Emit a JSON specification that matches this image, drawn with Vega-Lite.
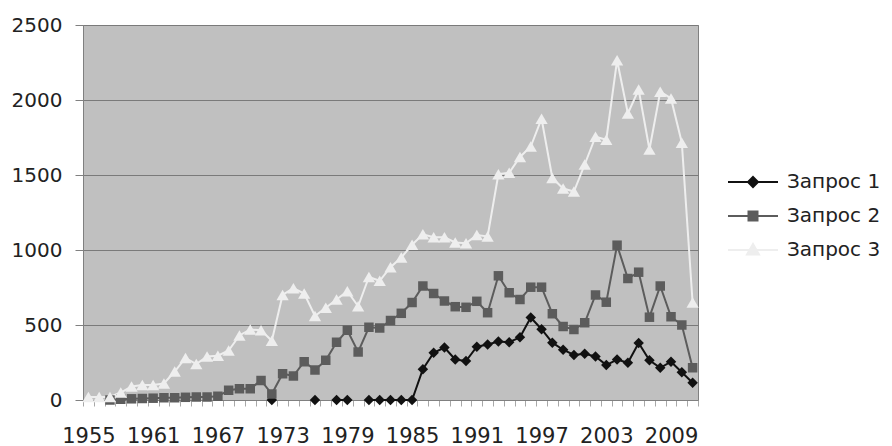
{
  "$schema": "https://vega.github.io/schema/vega-lite/v6.json",
  "width": 615,
  "height": 375,
  "autosize": {"type": "none"},
  "padding": {"left": 83, "top": 25, "right": 194, "bottom": 46},
  "background": "white",
  "config": {
    "view": {"fill": "#c0c0c0", "stroke": "#808080", "strokeWidth": 1},
    "font": "DejaVu Sans",
    "axis": {"labelFont": "DejaVu Sans", "labelFontSize": 20, "labelColor": "#222222", "title": null}
  },
  "data": {"values": [
    {"year": 1972, "series": "Запрос 1", "value": 0},
    {"year": 1973, "series": "Запрос 1", "value": null},
    {"year": 1974, "series": "Запрос 1", "value": null},
    {"year": 1975, "series": "Запрос 1", "value": null},
    {"year": 1976, "series": "Запрос 1", "value": 0},
    {"year": 1977, "series": "Запрос 1", "value": null},
    {"year": 1978, "series": "Запрос 1", "value": 0},
    {"year": 1979, "series": "Запрос 1", "value": 0},
    {"year": 1980, "series": "Запрос 1", "value": null},
    {"year": 1981, "series": "Запрос 1", "value": 0},
    {"year": 1982, "series": "Запрос 1", "value": 0},
    {"year": 1983, "series": "Запрос 1", "value": 0},
    {"year": 1984, "series": "Запрос 1", "value": 0},
    {"year": 1985, "series": "Запрос 1", "value": 0},
    {"year": 1986, "series": "Запрос 1", "value": 205},
    {"year": 1987, "series": "Запрос 1", "value": 315},
    {"year": 1988, "series": "Запрос 1", "value": 350},
    {"year": 1989, "series": "Запрос 1", "value": 270},
    {"year": 1990, "series": "Запрос 1", "value": 260},
    {"year": 1991, "series": "Запрос 1", "value": 355},
    {"year": 1992, "series": "Запрос 1", "value": 370},
    {"year": 1993, "series": "Запрос 1", "value": 390},
    {"year": 1994, "series": "Запрос 1", "value": 385},
    {"year": 1995, "series": "Запрос 1", "value": 418},
    {"year": 1996, "series": "Запрос 1", "value": 550},
    {"year": 1997, "series": "Запрос 1", "value": 472},
    {"year": 1998, "series": "Запрос 1", "value": 382},
    {"year": 1999, "series": "Запрос 1", "value": 335},
    {"year": 2000, "series": "Запрос 1", "value": 300},
    {"year": 2001, "series": "Запрос 1", "value": 308},
    {"year": 2002, "series": "Запрос 1", "value": 290},
    {"year": 2003, "series": "Запрос 1", "value": 233},
    {"year": 2004, "series": "Запрос 1", "value": 270},
    {"year": 2005, "series": "Запрос 1", "value": 248},
    {"year": 2006, "series": "Запрос 1", "value": 380},
    {"year": 2007, "series": "Запрос 1", "value": 265},
    {"year": 2008, "series": "Запрос 1", "value": 215},
    {"year": 2009, "series": "Запрос 1", "value": 255},
    {"year": 2010, "series": "Запрос 1", "value": 185},
    {"year": 2011, "series": "Запрос 1", "value": 115},

    {"year": 1957, "series": "Запрос 2", "value": 0},
    {"year": 1958, "series": "Запрос 2", "value": 5},
    {"year": 1959, "series": "Запрос 2", "value": 8},
    {"year": 1960, "series": "Запрос 2", "value": 10},
    {"year": 1961, "series": "Запрос 2", "value": 12},
    {"year": 1962, "series": "Запрос 2", "value": 15},
    {"year": 1963, "series": "Запрос 2", "value": 15},
    {"year": 1964, "series": "Запрос 2", "value": 18},
    {"year": 1965, "series": "Запрос 2", "value": 20},
    {"year": 1966, "series": "Запрос 2", "value": 20},
    {"year": 1967, "series": "Запрос 2", "value": 25},
    {"year": 1968, "series": "Запрос 2", "value": 65},
    {"year": 1969, "series": "Запрос 2", "value": 75},
    {"year": 1970, "series": "Запрос 2", "value": 75},
    {"year": 1971, "series": "Запрос 2", "value": 130},
    {"year": 1972, "series": "Запрос 2", "value": 40},
    {"year": 1973, "series": "Запрос 2", "value": 175},
    {"year": 1974, "series": "Запрос 2", "value": 160},
    {"year": 1975, "series": "Запрос 2", "value": 255},
    {"year": 1976, "series": "Запрос 2", "value": 200},
    {"year": 1977, "series": "Запрос 2", "value": 265},
    {"year": 1978, "series": "Запрос 2", "value": 385},
    {"year": 1979, "series": "Запрос 2", "value": 465},
    {"year": 1980, "series": "Запрос 2", "value": 320},
    {"year": 1981, "series": "Запрос 2", "value": 485},
    {"year": 1982, "series": "Запрос 2", "value": 480},
    {"year": 1983, "series": "Запрос 2", "value": 530},
    {"year": 1984, "series": "Запрос 2", "value": 578},
    {"year": 1985, "series": "Запрос 2", "value": 650},
    {"year": 1986, "series": "Запрос 2", "value": 760},
    {"year": 1987, "series": "Запрос 2", "value": 710},
    {"year": 1988, "series": "Запрос 2", "value": 660},
    {"year": 1989, "series": "Запрос 2", "value": 622},
    {"year": 1990, "series": "Запрос 2", "value": 618},
    {"year": 1991, "series": "Запрос 2", "value": 658},
    {"year": 1992, "series": "Запрос 2", "value": 582},
    {"year": 1993, "series": "Запрос 2", "value": 828},
    {"year": 1994, "series": "Запрос 2", "value": 715},
    {"year": 1995, "series": "Запрос 2", "value": 670},
    {"year": 1996, "series": "Запрос 2", "value": 752},
    {"year": 1997, "series": "Запрос 2", "value": 752},
    {"year": 1998, "series": "Запрос 2", "value": 575},
    {"year": 1999, "series": "Запрос 2", "value": 490},
    {"year": 2000, "series": "Запрос 2", "value": 470},
    {"year": 2001, "series": "Запрос 2", "value": 515},
    {"year": 2002, "series": "Запрос 2", "value": 700},
    {"year": 2003, "series": "Запрос 2", "value": 652},
    {"year": 2004, "series": "Запрос 2", "value": 1032},
    {"year": 2005, "series": "Запрос 2", "value": 810},
    {"year": 2006, "series": "Запрос 2", "value": 852},
    {"year": 2007, "series": "Запрос 2", "value": 552},
    {"year": 2008, "series": "Запрос 2", "value": 760},
    {"year": 2009, "series": "Запрос 2", "value": 555},
    {"year": 2010, "series": "Запрос 2", "value": 500},
    {"year": 2011, "series": "Запрос 2", "value": 215},

    {"year": 1955, "series": "Запрос 3", "value": 20},
    {"year": 1956, "series": "Запрос 3", "value": 20},
    {"year": 1957, "series": "Запрос 3", "value": 20},
    {"year": 1958, "series": "Запрос 3", "value": 50},
    {"year": 1959, "series": "Запрос 3", "value": 90},
    {"year": 1960, "series": "Запрос 3", "value": 100},
    {"year": 1961, "series": "Запрос 3", "value": 100},
    {"year": 1962, "series": "Запрос 3", "value": 110},
    {"year": 1963, "series": "Запрос 3", "value": 190},
    {"year": 1964, "series": "Запрос 3", "value": 280},
    {"year": 1965, "series": "Запрос 3", "value": 240},
    {"year": 1966, "series": "Запрос 3", "value": 290},
    {"year": 1967, "series": "Запрос 3", "value": 295},
    {"year": 1968, "series": "Запрос 3", "value": 330},
    {"year": 1969, "series": "Запрос 3", "value": 430},
    {"year": 1970, "series": "Запрос 3", "value": 470},
    {"year": 1971, "series": "Запрос 3", "value": 465},
    {"year": 1972, "series": "Запрос 3", "value": 395},
    {"year": 1973, "series": "Запрос 3", "value": 700},
    {"year": 1974, "series": "Запрос 3", "value": 745},
    {"year": 1975, "series": "Запрос 3", "value": 710},
    {"year": 1976, "series": "Запрос 3", "value": 560},
    {"year": 1977, "series": "Запрос 3", "value": 615},
    {"year": 1978, "series": "Запрос 3", "value": 670},
    {"year": 1979, "series": "Запрос 3", "value": 725},
    {"year": 1980, "series": "Запрос 3", "value": 625},
    {"year": 1981, "series": "Запрос 3", "value": 820},
    {"year": 1982, "series": "Запрос 3", "value": 795},
    {"year": 1983, "series": "Запрос 3", "value": 885},
    {"year": 1984, "series": "Запрос 3", "value": 950},
    {"year": 1985, "series": "Запрос 3", "value": 1035},
    {"year": 1986, "series": "Запрос 3", "value": 1105},
    {"year": 1987, "series": "Запрос 3", "value": 1085},
    {"year": 1988, "series": "Запрос 3", "value": 1085},
    {"year": 1989, "series": "Запрос 3", "value": 1050},
    {"year": 1990, "series": "Запрос 3", "value": 1045},
    {"year": 1991, "series": "Запрос 3", "value": 1100},
    {"year": 1992, "series": "Запрос 3", "value": 1090},
    {"year": 1993, "series": "Запрос 3", "value": 1505},
    {"year": 1994, "series": "Запрос 3", "value": 1515},
    {"year": 1995, "series": "Запрос 3", "value": 1620},
    {"year": 1996, "series": "Запрос 3", "value": 1690},
    {"year": 1997, "series": "Запрос 3", "value": 1875},
    {"year": 1998, "series": "Запрос 3", "value": 1480},
    {"year": 1999, "series": "Запрос 3", "value": 1410},
    {"year": 2000, "series": "Запрос 3", "value": 1390},
    {"year": 2001, "series": "Запрос 3", "value": 1570},
    {"year": 2002, "series": "Запрос 3", "value": 1755},
    {"year": 2003, "series": "Запрос 3", "value": 1735},
    {"year": 2004, "series": "Запрос 3", "value": 2265},
    {"year": 2005, "series": "Запрос 3", "value": 1910},
    {"year": 2006, "series": "Запрос 3", "value": 2070},
    {"year": 2007, "series": "Запрос 3", "value": 1670},
    {"year": 2008, "series": "Запрос 3", "value": 2055},
    {"year": 2009, "series": "Запрос 3", "value": 2010},
    {"year": 2010, "series": "Запрос 3", "value": 1715},
    {"year": 2011, "series": "Запрос 3", "value": 650}
  ]},
  "encoding": {
    "x": {
      "field": "year", "type": "quantitative",
      "scale": {"domain": [1954.5, 2011.5], "nice": false, "zero": false},
      "axis": {
        "values": [1954.5, 1955.5, 1956.5, 1957.5, 1958.5, 1959.5, 1960.5, 1961.5, 1962.5, 1963.5, 1964.5, 1965.5, 1966.5, 1967.5, 1968.5, 1969.5, 1970.5, 1971.5, 1972.5, 1973.5, 1974.5, 1975.5, 1976.5, 1977.5, 1978.5, 1979.5, 1980.5, 1981.5, 1982.5, 1983.5, 1984.5, 1985.5, 1986.5, 1987.5, 1988.5, 1989.5, 1990.5, 1991.5, 1992.5, 1993.5, 1994.5, 1995.5, 1996.5, 1997.5, 1998.5, 1999.5, 2000.5, 2001.5, 2002.5, 2003.5, 2004.5, 2005.5, 2006.5, 2007.5, 2008.5, 2009.5, 2010.5, 2011.5],
        "labelExpr": "((datum.value + 0.5 - 1955) % 6 === 0) ? format(datum.value + 0.5, 'd') : ''",
        "labelOffset": 5.4,
        "labelOverlap": false,
        "labelFlush": false,
        "labelFontSize": 21,
        "labelPadding": 19,
        "grid": false,
        "tickSize": 6,
        "tickColor": "#a8a8a8",
        "domainColor": "#808080"
      }
    },
    "y": {
      "field": "value", "type": "quantitative",
      "scale": {"domain": [0, 2500], "nice": false},
      "axis": {
        "values": [0, 500, 1000, 1500, 2000, 2500],
        "format": "d",
        "grid": true,
        "gridColor": "#7a7a7a",
        "gridWidth": 1,
        "domainColor": "#808080",
        "tickColor": "#808080",
        "tickSize": 8,
        "labelPadding": 13
      }
    },
    "color": {
      "field": "series", "type": "nominal",
      "scale": {"domain": ["Запрос 1", "Запрос 2", "Запрос 3"], "range": ["#111111", "#5c5c5c", "#eeeeee"]},
      "legend": {
        "orient": "none",
        "legendX": 660,
        "legendY": 147,
        "title": null,
        "symbolSize": 100,
        "symbolStrokeWidth": 2,
        "labelFont": "DejaVu Sans",
        "labelFontSize": 20,
        "labelColor": "#222222",
        "labelOffset": 24,
        "labelLimit": 300,
        "rowPadding": 14,
        "padding": 0,
        "encode": {
          "symbols": {
            "update": {
              "shape": {"signal": "datum.value === 'Запрос 1' ? 'M-5,0H5M0,-1L1,0L0,1L-1,0Z' : datum.value === 'Запрос 2' ? 'M-5,0H5M-0.9,-0.9H0.9V0.9H-0.9Z' : 'M-5,0H5M0,-1.2L1.2,0.9L-1.2,0.9Z'"},
              "fill": {"signal": "scale('color', datum.value)"},
              "stroke": {"signal": "scale('color', datum.value)"},
              "strokeWidth": {"value": 2},
              "opacity": {"value": 1}
            }
          }
        }
      }
    }
  },
  "layer": [
    {
      "mark": {"type": "line", "strokeWidth": 2, "invalid": "break-paths-show-domains"},
      "encoding": {}
    },
    {
      "transform": [{"filter": "datum.series === 'Запрос 1'"}],
      "mark": {"type": "point", "filled": true, "opacity": 1, "shape": "diamond", "size": 110, "invalid": "break-paths-show-domains"},
      "encoding": {}
    },
    {
      "transform": [{"filter": "datum.series === 'Запрос 2'"}],
      "mark": {"type": "point", "filled": true, "opacity": 1, "shape": "square", "size": 90, "invalid": "break-paths-show-domains"},
      "encoding": {}
    },
    {
      "transform": [{"filter": "datum.series === 'Запрос 3'"}],
      "mark": {"type": "point", "filled": true, "opacity": 1, "shape": "triangle-up", "size": 150, "invalid": "break-paths-show-domains"},
      "encoding": {}
    }
  ]
}
